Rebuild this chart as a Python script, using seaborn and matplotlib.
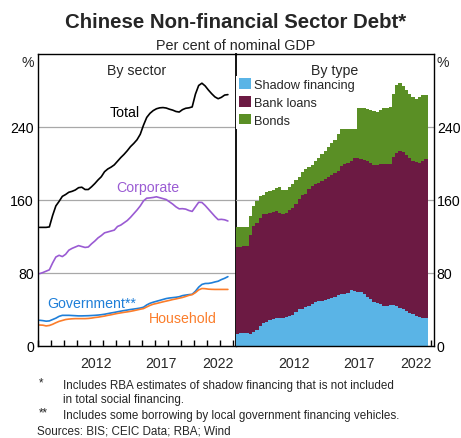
import numpy as np
import pandas as pd
import matplotlib
matplotlib.use("Agg")
import matplotlib.pyplot as plt
from matplotlib.patches import Patch
import seaborn as sns

# ---- data: per cent of nominal GDP, quarterly 2008Q1 - 2022Q3 ----
quarters = pd.period_range("2008Q1", "2022Q3", freq="Q")

total = [130, 130, 130, 130.5, 143, 153.5, 158.5, 164, 166, 168.5, 169.5, 171,
         173.5, 174, 171.5, 171.5, 174.5, 178, 182, 185.5, 191, 194, 196, 198.5,
         202.5, 206.5, 210, 214, 218.5, 222, 226, 232, 242, 250.5, 255, 258,
         260, 261, 261.3, 260.8, 259.5, 258.5, 257, 256.4, 259, 260.5, 261, 262,
         276, 285.5, 288, 285, 280.5, 276.5, 273, 271, 272.5, 275, 275.5]
corporate = [79.3, 80.5, 82, 83.5, 91, 97.5, 99.4, 98, 100.5, 105, 107, 108.5,
             110, 109, 108, 108.5, 112, 115, 118.5, 121, 124, 125, 126, 127,
             131, 132.5, 135, 137.5, 141, 145, 149, 153.5, 159, 162, 162.3, 162.8,
             163.5, 162.5, 161.5, 160.5, 158, 155.5, 152.5, 150.3, 150.5, 150, 148.5, 147.5,
             152.5, 157.5, 157.3, 154, 150, 146, 142, 138.5, 138.8, 138.3, 137]
government = [28.2, 27.8, 27.2, 27.5, 29, 30.5, 32.5, 33.6, 33.6, 33.6, 33.4, 33.2,
              33, 33, 33.1, 33.2, 33.4, 33.6, 33.9, 34.3, 34.8, 35.5, 36.2, 36.8,
              37.5, 38.2, 38.8, 39.4, 40, 40.5, 41, 41.6, 42.5, 45, 46.8, 48,
              49, 50, 51, 52, 52.6, 53, 53.4, 54, 55.2, 55.8, 56.3, 56.7,
              60, 64.5, 67.5, 68.5, 68.6, 69.2, 70.2, 71, 72.8, 74.2, 76]
household = [23, 22.8, 22, 22.5, 23.8, 25.5, 27, 28, 29, 29.5, 29.8, 30,
             30, 30, 30, 30.2, 30.6, 31.2, 31.6, 32.2, 32.8, 33.6, 34.2, 35,
             35.7, 36.3, 36.9, 37.4, 38, 38.7, 39.5, 40.3, 41, 42.8, 44.5, 45.8,
             46.6, 47.5, 48.4, 49.2, 50, 50.9, 51.6, 52.4, 53.2, 54.3, 55.5, 56.3,
             58.5, 61.5, 63, 62.8, 62.3, 62.1, 62, 62, 62, 62, 62]

shadow = [12.8, 14.6, 14.6, 14, 13.5, 15.3, 17.5, 21.9, 24.9, 26.3, 28.2, 29.3,
          31.1, 31, 31.2, 31.8, 32.9, 34.4, 37.3, 40.2, 41, 42.4, 43.8, 45.7,
          48.2, 49, 49, 50.4, 51.9, 53, 53.7, 56.3, 57.4, 57.4, 58.5, 61,
          60.3, 59.6, 59.2, 56.7, 54.1, 51.2, 48.2, 47.6, 45.7, 43.8, 43.8, 44.6,
          44.6, 43.8, 42, 40.2, 38.4, 36.6, 34.7, 32.9, 31.8, 31.1, 31.1]
bank_loans = [96.2, 94.4, 94.9, 95.5, 107.8, 116.2, 117, 118.1, 119.4, 118.7, 118, 117.5,
              116.9, 115.2, 113.8, 114.4, 116.1, 117.2, 118, 120.6, 124.2, 123.9, 127.9, 129.6,
              129, 129.3, 131.8, 132.3, 133.7, 134, 135.6, 135.7, 139.6, 142.6, 142.5, 142,
              145.2, 146.1, 145.8, 147.3, 148.9, 149.8, 150.3, 150.4, 154.3, 155.2, 155.2, 154.4,
              162.4, 167.7, 171.7, 172.3, 170.6, 169.4, 168.3, 168.6, 169.2, 171.9, 173.9]
bonds = [21, 21, 20.5, 21, 21.7, 22, 24, 24, 21.7, 23.5, 23.3, 24.2,
         25.5, 27.8, 26.5, 25.3, 25.5, 26.4, 26.7, 24.7, 25.8, 27.7, 24.3, 23.2,
         25.3, 28.2, 29.2, 31.3, 32.9, 35, 36.7, 40, 45, 50.5, 54, 55,
         54.5, 55.3, 56.3, 56.8, 56.5, 57.5, 58.5, 58.4, 59, 61.5, 62, 63,
         69, 74, 74.3, 72.5, 71.5, 70.5, 70, 69.5, 71.5, 72, 70.5]

y_ticks = [0, 80, 160, 240]
year_labels = [2012, 2017, 2022]

# decimal-year start / midpoint of each quarter
q_start = np.array([q.year + (q.quarter - 1) / 4 for q in quarters])
t = q_start + 0.125

df = pd.DataFrame({"t": t, "total": total, "corporate": corporate,
                   "government": government, "household": household,
                   "shadow": shadow, "bank_loans": bank_loans, "bonds": bonds})
df["stack_bank"] = df["shadow"] + df["bank_loans"]
df["stack_bonds"] = df["stack_bank"] + df["bonds"]

# ---- colours ----
C_TOTAL = "#000000"
C_CORP = "#9a5bd3"
C_GOV = "#1f7fd8"
C_HH = "#fb7d2b"
C_SHADOW = "#5ab4e6"
C_BANK = "#6c1a43"
C_BONDS = "#5a8f25"
C_GRID = "#a8a8a8"

sns.set_theme(style="white")
plt.rcParams["font.family"] = ["Liberation Sans", "DejaVu Sans"]
plt.rcParams["axes.linewidth"] = 1.0

W, H = 461, 439
fig = plt.figure(figsize=(W / 100, H / 100), dpi=100)
fig.patch.set_facecolor("white")

def px_axes(x0, y_top, w, h):
    return fig.add_axes([x0 / W, (H - y_top - h) / H, w / W, h / H])

ax1 = px_axes(38, 55, 198, 292)
ax2 = px_axes(236, 55, 198, 292)
ax2.set_facecolor("none")

XMIN, XMAX = 2008.0, 2023.25
TICK_FS = 10.2

# ---- left panel: by sector ----
for col, colour in [("total", C_TOTAL), ("corporate", C_CORP),
                    ("government", C_GOV), ("household", C_HH)]:
    sns.lineplot(data=df, x="t", y=col, color=colour, lw=1.2, ax=ax1)

# ---- right panel: by type (stacked quarterly bars) ----
bin_range = (q_start[0], q_start[-1] + 0.25)
for col, colour in [("stack_bonds", C_BONDS), ("stack_bank", C_BANK), ("shadow", C_SHADOW)]:
    sns.histplot(data=df, x="t", weights=col, binwidth=0.25, binrange=bin_range,
                 color=colour, alpha=1, linewidth=0, element="bars", ax=ax2)

for ax in (ax1, ax2):
    ax.set_xlim(XMIN, XMAX)
    ax.set_ylim(0, 320)
    ax.set_xlabel("")
    ax.set_ylabel("")
    ax.set_yticks(y_ticks)
    ax.set_yticklabels([str(v) for v in y_ticks], fontsize=TICK_FS)
    ax.yaxis.grid(True, color=C_GRID, lw=0.9)
    ax.xaxis.grid(False)
    ax.set_axisbelow(True)
    ax.set_xticks(np.arange(2008, 2024))
    ax.set_xticklabels([])
    ax.tick_params(axis="x", direction="in", length=4.5, width=1.0, color="black",
                   bottom=True, top=False)
    ax.tick_params(axis="y", length=0, pad=3, labelcolor="black")
    for s in ax.spines.values():
        s.set_color("black")
        s.set_linewidth(1.0)
    for yr in year_labels:
        if yr == year_labels[-1]:
            ax.annotate(str(yr), xy=(XMAX, 0), xycoords=("data", "axes fraction"),
                        xytext=(-1.5, -7), textcoords="offset points",
                        ha="right", va="top", fontsize=TICK_FS)
        else:
            ax.annotate(str(yr), xy=(yr + 0.5, 0), xycoords=("data", "axes fraction"),
                        xytext=(0, -7), textcoords="offset points",
                        ha="center", va="top", fontsize=TICK_FS)

ax1.spines["right"].set_linewidth(1.3)
ax2.spines["left"].set_visible(False)
ax2.yaxis.tick_right()
ax2.tick_params(axis="y", length=0, pad=2)

ax1.text(-0.02, 0.995, "%", transform=ax1.transAxes, ha="right", va="top", fontsize=TICK_FS)
ax2.text(1.012, 0.995, "%", transform=ax2.transAxes, ha="left", va="top", fontsize=TICK_FS)

# series labels
ax1.text(2015.6, 302.5, "By sector", ha="center", va="center", fontsize=TICK_FS)
ax1.text(2014.64, 256, "Total", ha="center", va="center", fontsize=TICK_FS, color=C_TOTAL)
ax1.text(2016.48, 174, "Corporate", ha="center", va="center", fontsize=TICK_FS, color=C_CORP)
ax1.text(2012.15, 47.6, "Government**", ha="center", va="center", fontsize=TICK_FS, color=C_GOV)
ax1.text(2019.18, 31.1, "Household", ha="center", va="center", fontsize=TICK_FS, color=C_HH)

handles = [Patch(facecolor=C_SHADOW, edgecolor="none", label="Shadow financing"),
           Patch(facecolor=C_BANK, edgecolor="none", label="Bank loans"),
           Patch(facecolor=C_BONDS, edgecolor="none", label="Bonds")]
leg = ax2.legend(handles=handles, loc="upper left", bbox_to_anchor=(0.0, 0.925),
                 fontsize=9.2, frameon=True, facecolor="white", edgecolor="none",
                 framealpha=1, fancybox=False, borderpad=0.2, borderaxespad=0.0,
                 handlelength=0.95, handleheight=0.85, handletextpad=0.25,
                 labelspacing=0.42)
leg.set_zorder(5)
ax2.text(2015.58, 302.5, "By type", ha="center", va="center", fontsize=TICK_FS, zorder=6)

# titles
fig.text(236 / W, 1 - 28.5 / H, "Chinese Non-financial Sector Debt*", ha="center",
         va="baseline", fontsize=14.7, fontweight="bold")
fig.text(236 / W, 1 - 50 / H, "Per cent of nominal GDP", ha="center", va="baseline",
         fontsize=10.4)

# footnotes
FN = 8.35
fig.text(39 / W, 1 - 386 / H, "*", ha="left", va="baseline", fontsize=FN)
fig.text(63 / W, 1 - 389 / H, "Includes RBA estimates of shadow financing that is not included",
         ha="left", va="baseline", fontsize=FN)
fig.text(63 / W, 1 - 403 / H, "in total social financing.", ha="left", va="baseline", fontsize=FN)
fig.text(39 / W, 1 - 416 / H, "**", ha="left", va="baseline", fontsize=FN)
fig.text(63 / W, 1 - 419 / H, "Includes some borrowing by local government financing vehicles.",
         ha="left", va="baseline", fontsize=FN)
fig.text(37 / W, 1 - 435 / H, "Sources: BIS; CEIC Data; RBA; Wind", ha="left",
         va="baseline", fontsize=FN)

fig.savefig("out.png", dpi=100, facecolor="white")
